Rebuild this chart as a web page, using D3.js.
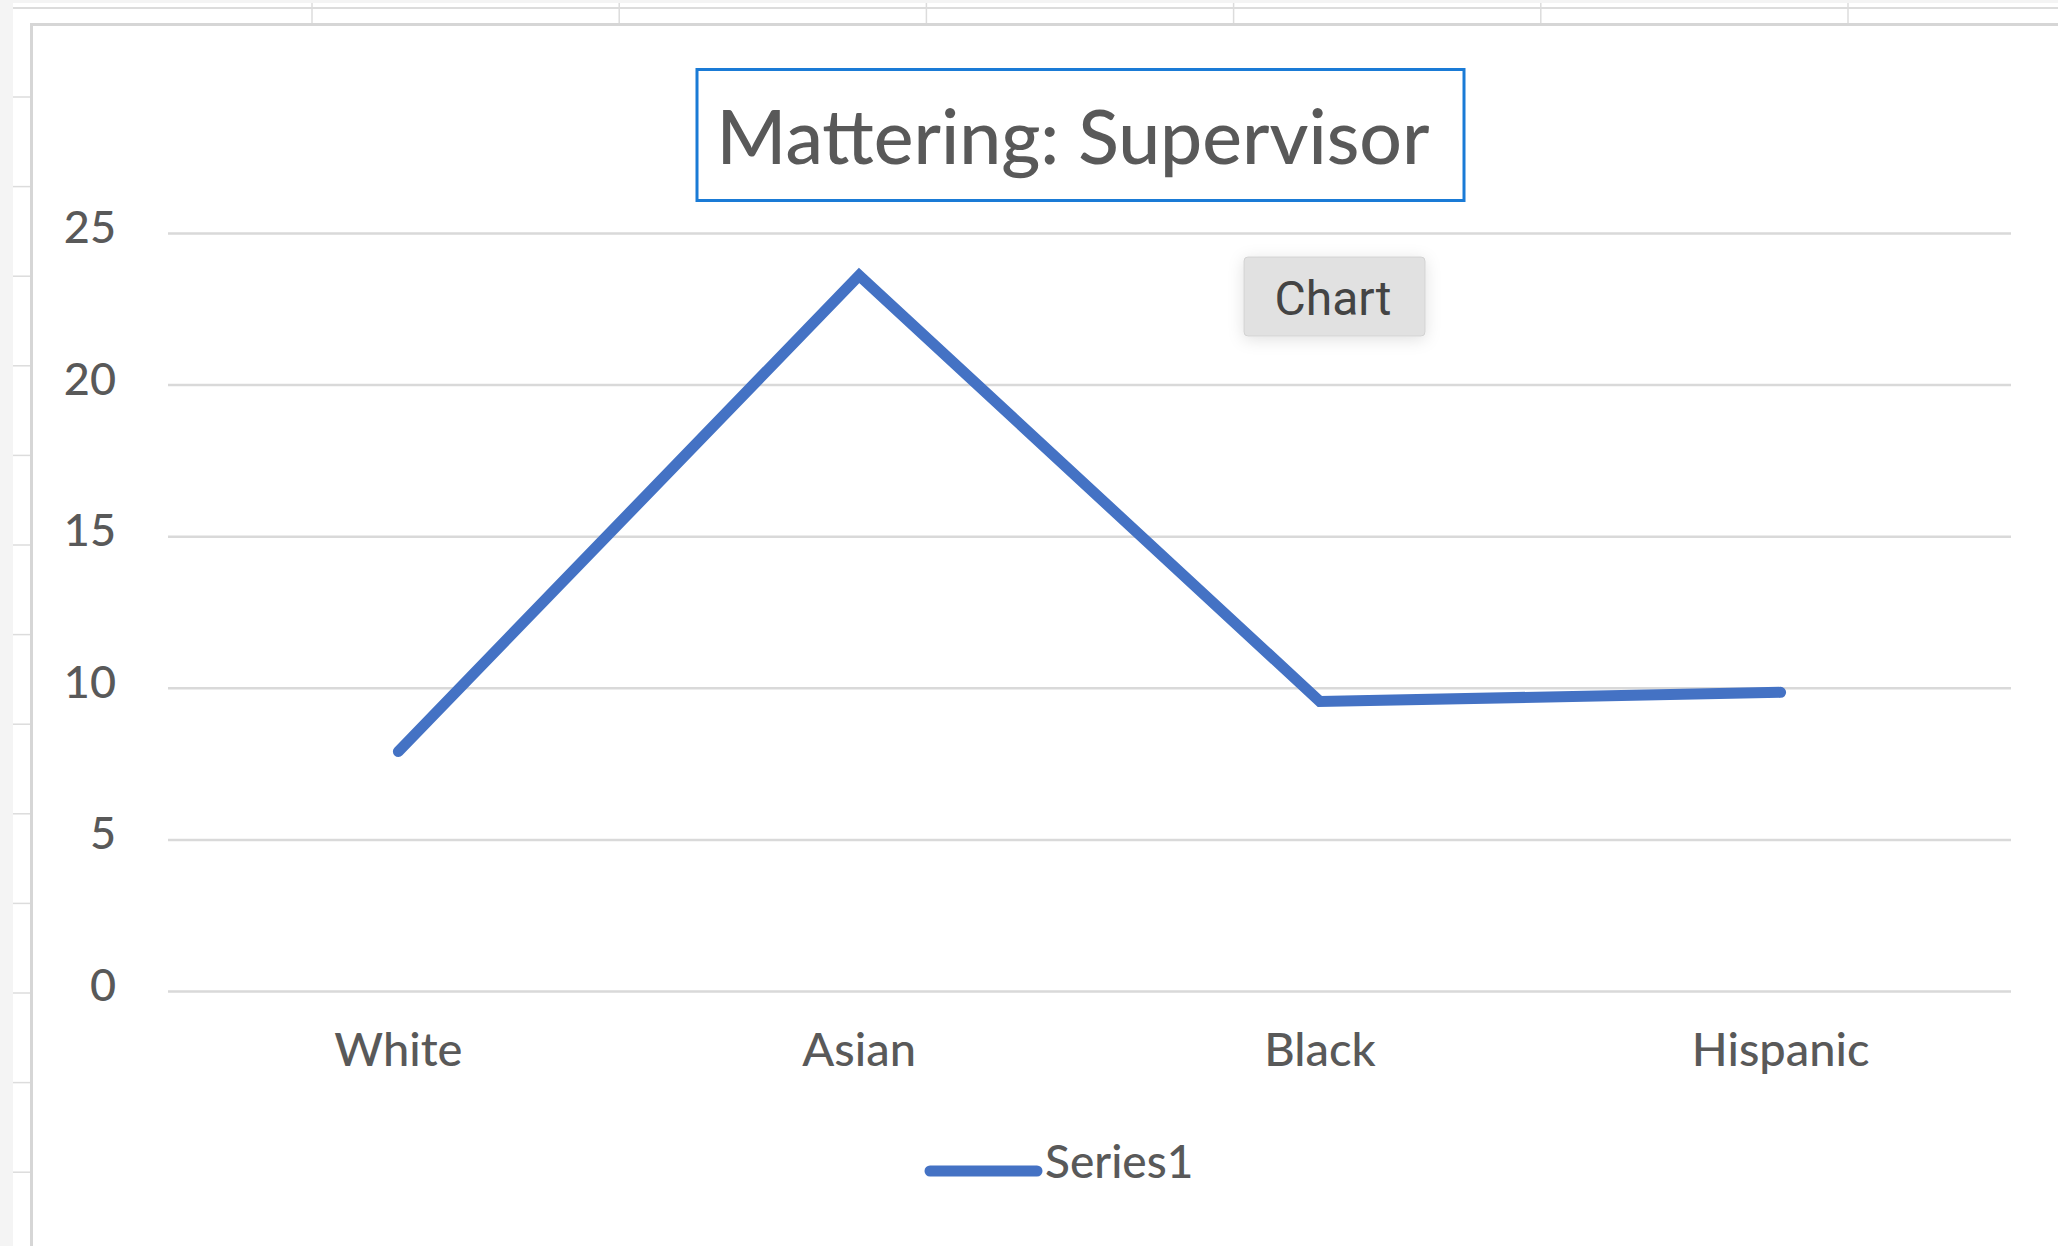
<!DOCTYPE html>
<html>
<head>
<meta charset="utf-8">
<script src="https://cdn.jsdelivr.net/npm/d3@7"></script>
<style>
  body { margin: 0; background: #ffffff; }
  svg { display: block; }
  .axis text { font-family: Lato, "Open Sans", sans-serif; fill: #595959; }
</style>
</head>
<body>
<div id="chart"></div>
<script>
// chart data
var categories = ["White", "Asian", "Black", "Hispanic"];
var series1 = [7.9, 23.6, 9.55, 9.85];
var yTicks = [0, 5, 10, 15, 20, 25];
var seriesName = "Series1";
var chartTitle = "Mattering: Supervisor";

var W = 2058, H = 1246;
var margin = { top: 233, right: 47, bottom: 255, left: 168 };
var width = W - margin.left - margin.right,
    height = H - margin.top - margin.bottom;

var svg = d3.select("#chart").append("svg")
    .attr("width", W)
    .attr("height", H);

// spreadsheet behind the chart object
svg.append("rect").attr("width", W).attr("height", H).attr("fill", "#ffffff");
svg.append("rect").attr("x", 0).attr("y", 0).attr("width", 13).attr("height", H).attr("fill", "#f4f4f4");
svg.append("rect").attr("x", 0).attr("y", 0).attr("width", W).attr("height", 3).attr("fill", "#f4f4f4");
svg.append("line").attr("x1", 13).attr("x2", W).attr("y1", 8).attr("y2", 8)
    .attr("stroke", "#dcdcdc").attr("stroke-width", 2);
var rowH = 89.6, colW = 307.2;
d3.range(97, H, rowH).forEach(function (ry) {
    svg.append("line").attr("x1", 13).attr("x2", 30).attr("y1", ry).attr("y2", ry)
        .attr("stroke", "#dcdcdc").attr("stroke-width", 1.5);
});
d3.range(312, W, colW).forEach(function (cx) {
    svg.append("line").attr("x1", cx).attr("x2", cx).attr("y1", 3).attr("y2", 24)
        .attr("stroke", "#dcdcdc").attr("stroke-width", 1.5);
});

// chart area
svg.append("rect")
    .attr("x", 31.5).attr("y", 24.5)
    .attr("width", W + 10).attr("height", H + 10)
    .attr("fill", "#ffffff")
    .attr("stroke", "#d6d6d6")
    .attr("stroke-width", 3);

var g = svg.append("g")
    .attr("transform", "translate(" + margin.left + "," + margin.top + ")");

var x = d3.scaleBand()
    .domain(categories)
    .range([0, width]);

var y = d3.scaleLinear()
    .domain([0, 25])
    .range([height, 0]);

// gridlines + y labels
var yAxis = g.append("g")
    .attr("class", "axis y")
    .call(d3.axisLeft(y).tickValues(yTicks).tickSize(-width).tickPadding(52));
yAxis.select(".domain").remove();
yAxis.selectAll(".tick line").attr("stroke", "#d9d9d9").attr("stroke-width", 2.5);
yAxis.selectAll(".tick text")
    .style("font-size", "45px")
    .style("font-weight", 500)
    .attr("dy", "0.21em");

// category labels
var xAxis = g.append("g")
    .attr("class", "axis x")
    .attr("transform", "translate(0," + height + ")")
    .call(d3.axisBottom(x).tickSize(0).tickPadding(42));
xAxis.select(".domain").remove();
xAxis.selectAll(".tick text").style("font-size", "47px").style("font-weight", 500);

// the series line
var line = d3.line()
    .x(function (d, i) { return x(categories[i]) + x.bandwidth() / 2; })
    .y(function (d) { return y(d); });

g.append("path")
    .datum(series1)
    .attr("fill", "none")
    .attr("stroke", "#4472c4")
    .attr("stroke-width", 11)
    .attr("stroke-linejoin", "miter")
    .attr("stroke-linecap", "round")
    .attr("d", line);

// title with selection box
svg.append("rect")
    .attr("x", 697).attr("y", 69.5)
    .attr("width", 767).attr("height", 131)
    .attr("fill", "none")
    .attr("stroke", "#1a7bd6")
    .attr("stroke-width", 3);
svg.append("text")
    .attr("x", 1073).attr("y", 164)
    .attr("text-anchor", "middle")
    .style("font-family", "Lato, sans-serif")
    .style("font-size", "75px")
    .style("font-weight", 500)
    .style("fill", "#595959")
    .text(chartTitle);

// legend
var legend = svg.append("g").attr("transform", "translate(925,1171)");
legend.append("line")
    .attr("x1", 5).attr("x2", 112)
    .attr("stroke", "#4472c4")
    .attr("stroke-width", 11)
    .attr("stroke-linecap", "round");
legend.append("text")
    .attr("x", 120).attr("y", 7)
    .style("font-family", "Lato, sans-serif")
    .style("font-size", "46px")
    .style("font-weight", 500)
    .style("fill", "#595959")
    .text(seriesName);

// "Chart" hover label
var defs = svg.append("defs");
var f = defs.append("filter").attr("id", "shadow").attr("x", "-30%").attr("y", "-30%").attr("width", "160%").attr("height", "160%");
f.append("feDropShadow").attr("dx", 0).attr("dy", 3).attr("stdDeviation", 8).attr("flood-color", "#000").attr("flood-opacity", 0.12);
var tip = svg.append("g").attr("transform", "translate(1244,257)");
tip.append("rect")
    .attr("width", 181).attr("height", 79)
    .attr("rx", 4)
    .attr("fill", "#e1e1e1")
    .attr("stroke", "#d2d2d2")
    .attr("stroke-width", 1)
    .attr("filter", "url(#shadow)");
tip.append("text")
    .attr("x", 89).attr("y", 58)
    .attr("text-anchor", "middle")
    .style("font-family", "Roboto, Inter, sans-serif")
    .style("font-size", "48px")
    .style("fill", "#444444")
    .text("Chart");
</script>
</body>
</html>
